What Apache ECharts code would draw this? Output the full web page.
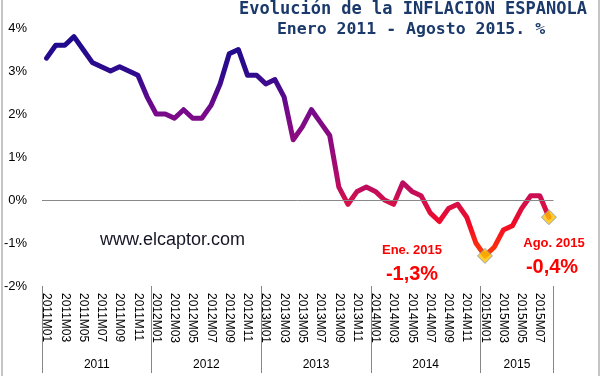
<!DOCTYPE html>
<html>
<head>
<meta charset="utf-8">
<script src="https://cdn.jsdelivr.net/npm/echarts@6/dist/echarts.min.js"></script>
<style>
html,body{margin:0;padding:0;background:#fff;}
#chart{width:601px;height:376px;}
</style>
</head>
<body>
<div id="chart"></div>
<script>
// ---- data ----
var months = [
 '2011M01','2011M02','2011M03','2011M04','2011M05','2011M06','2011M07','2011M08','2011M09','2011M10','2011M11','2011M12',
 '2012M01','2012M02','2012M03','2012M04','2012M05','2012M06','2012M07','2012M08','2012M09','2012M10','2012M11','2012M12',
 '2013M01','2013M02','2013M03','2013M04','2013M05','2013M06','2013M07','2013M08','2013M09','2013M10','2013M11','2013M12',
 '2014M01','2014M02','2014M03','2014M04','2014M05','2014M06','2014M07','2014M08','2014M09','2014M10','2014M11','2014M12',
 '2015M01','2015M02','2015M03','2015M04','2015M05','2015M06','2015M07','2015M08'
];
var inflation = [
 3.3,3.6,3.6,3.8,3.5,3.2,3.1,3.0,3.1,3.0,2.9,2.4,
 2.0,2.0,1.9,2.1,1.9,1.9,2.2,2.7,3.4,3.5,2.9,2.9,
 2.7,2.8,2.4,1.4,1.7,2.1,1.8,1.5,0.3,-0.1,0.2,0.3,
 0.2,0.0,-0.1,0.4,0.2,0.1,-0.3,-0.5,-0.2,-0.1,-0.4,-1.0,
 -1.3,-1.1,-0.7,-0.6,-0.2,0.1,0.1,-0.4
];
var years = ['2011','2012','2013','2014','2015'];
var monthsPerYear = [12,12,12,12,8];
var highlighted = ['2015M01','2015M08'];
var yTicks = [-2,-1,0,1,2,3,4];

// derived helpers
var yearBounds = [0];
monthsPerYear.forEach(function(n,i){ yearBounds.push(yearBounds[i] + n); });
var yearMids = years.map(function(y,i){ return (yearBounds[i] + yearBounds[i+1]) / 2; });
var markerData = highlighted.map(function(m){ return [m, inflation[months.indexOf(m)]]; });

var chart = echarts.init(document.getElementById('chart'), null, {renderer:'canvas'});
var FONT = 'Liberation Sans';

var option = {
  animation: false,
  backgroundColor: '#ffffff',
  grid: { left: 42, right: 47.5, top: 28, bottom: 90, containLabel: false },
  xAxis: [{
    type: 'category',
    data: months,
    boundaryGap: true,
    axisLine: { show: false },
    axisTick: { show: false },
    splitLine: { show: false },
    axisLabel: {
      interval: 1, rotate: -90, margin: 7,
      fontFamily: FONT, fontSize: 12, color: '#000'
    }
  }, {
    type: 'value',
    min: 0, max: yearBounds[yearBounds.length-1],
    position: 'bottom',
    axisLine: { show: false },
    splitLine: { show: false },
    axisTick: {
      show: true, length: 87, inside: false,
      customValues: yearBounds,
      lineStyle: { color: '#878787', width: 1 }
    },
    axisLabel: {
      show: true, margin: 73,
      customValues: yearMids,
      fontFamily: FONT, fontSize: 12, color: '#000',
      formatter: function(v){
        var i = yearMids.indexOf(v);
        return i >= 0 ? years[i] : '';
      }
    }
  }],
  yAxis: {
    type: 'value',
    min: yTicks[0], max: yTicks[yTicks.length-1], interval: 1,
    axisLine: { show: false },
    axisTick: { show: false },
    splitLine: { show: false },
    axisLabel: {
      formatter: '{value}%', margin: 15,
      fontFamily: FONT, fontSize: 13, color: '#000'
    }
  },
  series: [{
    type: 'line',
    data: [],
    z: 1,
    silent: true,
    markLine: {
      silent: true,
      symbol: ['none','none'],
      label: { show: false },
      lineStyle: { color: '#888888', width: 1, type: 'solid' },
      data: [{ yAxis: 0 }]
    }
  }, {
    type: 'line',
    data: inflation,
    z: 3,
    smooth: false,
    showSymbol: false,
    symbol: 'none',
    lineStyle: {
      width: 5, cap: 'round', join: 'round',
      color: new echarts.graphic.LinearGradient(0, 0, 0, 1, [
        { offset: 0.00, color: '#1c0a8c' },
        { offset: 0.18, color: '#300a8e' },
        { offset: 0.35, color: '#780a8a' },
        { offset: 0.55, color: '#9a0a78' },
        { offset: 0.69, color: '#c00c5c' },
        { offset: 0.75, color: '#d4104a' },
        { offset: 0.85, color: '#f20a26' },
        { offset: 1.00, color: '#ff4000' }
      ])
    }
  }, {
    type: 'scatter',
    data: markerData,
    z: 5,
    symbol: 'diamond',
    symbolSize: [15, 15],
    itemStyle: { color: '#ffc000', borderColor: '#7a95c4', borderWidth: 1 }
  }],
  graphic: [
    { type: 'line', shape: { x1: 2, y1: 0, x2: 2, y2: 376 }, style: { stroke: '#8a8a8a', lineWidth: 1 } },
    { type: 'line', shape: { x1: 599, y1: 0, x2: 599, y2: 376 }, style: { stroke: '#8a8a8a', lineWidth: 1 } },
    { type: 'text', x: 413, y: 10, style: { text: 'Evolución de la INFLACIÓN ESPAÑOLA', font: 'bold 17px "DejaVu Sans Mono"', fill: '#1b3a6b', textAlign: 'center', textVerticalAlign: 'middle' } },
    { type: 'text', x: 411, y: 30, style: { text: 'Enero 2011 - Agosto 2015. %', font: 'bold 16.5px "DejaVu Sans Mono"', fill: '#1b3a6b', textAlign: 'center', textVerticalAlign: 'middle' } },
    { type: 'text', x: 100, y: 240, style: { text: 'www.elcaptor.com', font: '18px "Liberation Sans"', fill: '#161626', textAlign: 'left', textVerticalAlign: 'middle' } },
    { type: 'text', x: 412, y: 250, style: { text: 'Ene. 2015', font: 'bold 13px "Liberation Sans"', fill: '#ff0000', textAlign: 'center', textVerticalAlign: 'middle' } },
    { type: 'text', x: 412, y: 274, style: { text: '-1,3%', font: 'bold 20px "Liberation Sans"', fill: '#ff0000', textAlign: 'center', textVerticalAlign: 'middle' } },
    { type: 'text', x: 554, y: 243, style: { text: 'Ago. 2015', font: 'bold 13px "Liberation Sans"', fill: '#ff0000', textAlign: 'center', textVerticalAlign: 'middle' } },
    { type: 'text', x: 552, y: 267, style: { text: '-0,4%', font: 'bold 20px "Liberation Sans"', fill: '#ff0000', textAlign: 'center', textVerticalAlign: 'middle' } }
  ]
};
chart.setOption(option);
</script>
</body>
</html>
